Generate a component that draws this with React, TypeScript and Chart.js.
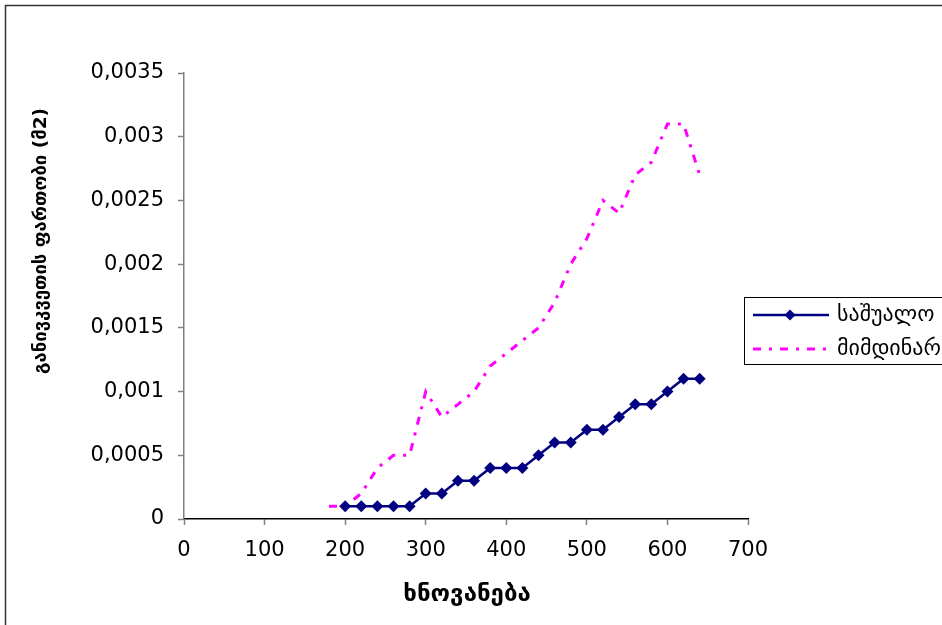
import React, { useEffect, useRef } from "react";
import { Chart, registerables } from "chart.js";

Chart.register(...registerables);

// ---- data ----
const seriesNames = ["საშუალო", "მიმდინარე"];
const averageAges = [200, 220, 240, 260, 280, 300, 320, 340, 360, 380, 400, 420, 440, 460, 480, 500, 520, 540, 560, 580, 600, 620, 640];
const averageArea = [0.0001, 0.0001, 0.0001, 0.0001, 0.0001, 0.0002, 0.0002, 0.0003, 0.0003, 0.0004, 0.0004, 0.0004, 0.0005, 0.0006, 0.0006, 0.0007, 0.0007, 0.0008, 0.0009, 0.0009, 0.001, 0.0011, 0.0011];
const currentAges = [180, 200, 220, 240, 260, 280, 300, 320, 340, 360, 380, 400, 420, 440, 460, 480, 500, 520, 540, 560, 580, 600, 620, 640];
const currentArea = [0.0001, 0.0001, 0.0002, 0.0004, 0.0005, 0.0005, 0.001, 0.0008, 0.0009, 0.001, 0.0012, 0.0013, 0.0014, 0.0015, 0.0017, 0.002, 0.0022, 0.0025, 0.0024, 0.0027, 0.0028, 0.0031, 0.0031, 0.0027];
const xTickValues = [0, 100, 200, 300, 400, 500, 600, 700];
const yTickValues = [0, 0.0005, 0.001, 0.0015, 0.002, 0.0025, 0.003, 0.0035];
const xTitle = "ხნოვანება";
const yTitle = "განივკვეთის ფართობი (მ2)";

const GEO_FONT = "'DejaVu Sans', sans-serif";
const NUM_FONT = "'DejaVu Sans', sans-serif";

const fmt = (v: number) => (v === 0 ? "0" : String(Number(v.toFixed(4))).replace(".", ","));

const framePlugin = {
  id: "frame",
  beforeDraw(chart: any) {
    const ctx = chart.ctx;
    ctx.save();
    ctx.fillStyle = "#ffffff";
    ctx.fillRect(0, 0, chart.width, chart.height);
    ctx.strokeStyle = "#333333";
    ctx.lineWidth = 1.5;
    ctx.beginPath();
    ctx.moveTo(5.5, chart.height + 10);
    ctx.lineTo(5.5, 5.5);
    ctx.lineTo(chart.width + 10, 5.5);
    ctx.stroke();
    ctx.restore();
  },
};

const titlesPlugin = {
  id: "titles",
  afterDraw(chart: any) {
    const ctx = chart.ctx;
    const area = chart.chartArea;
    ctx.save();
    ctx.fillStyle = "#000000";
    ctx.textAlign = "center";
    ctx.textBaseline = "middle";
    ctx.font = `bold 24px ${GEO_FONT}`;
    ctx.fillText(xTitle, (area.left + area.right) / 2 + 1, 595);
    ctx.translate(41, 241);
    ctx.rotate(-Math.PI / 2);
    ctx.font = `bold 18.5px ${GEO_FONT}`;
    ctx.fillText(yTitle, 0, 0);
    ctx.restore();
  },
};

const legendPlugin = {
  id: "customLegend",
  afterDraw(chart: any) {
    const ctx = chart.ctx;
    const boxLeft = 744.5;
    const boxTop = 297.5;
    const rowY = [315, 349];
    ctx.save();
    ctx.strokeStyle = "#000000";
    ctx.lineWidth = 1;
    ctx.strokeRect(boxLeft, boxTop, 300, 67);
    chart.data.datasets.forEach((ds: any, i: number) => {
      const y = rowY[i];
      ctx.save();
      ctx.strokeStyle = ds.borderColor;
      ctx.lineWidth = ds.borderWidth;
      ctx.setLineDash(ds.borderDash || []);
      ctx.beginPath();
      ctx.moveTo(753, y);
      ctx.lineTo(829, y);
      ctx.stroke();
      ctx.restore();
      if (ds.pointRadius > 0) {
        const r = ds.pointRadius - 0.5;
        ctx.fillStyle = ds.pointBackgroundColor;
        ctx.beginPath();
        ctx.moveTo(790, y - r);
        ctx.lineTo(790 + r, y);
        ctx.lineTo(790, y + r);
        ctx.lineTo(790 - r, y);
        ctx.closePath();
        ctx.fill();
      }
      ctx.fillStyle = "#000000";
      ctx.font = `22px ${GEO_FONT}`;
      ctx.textAlign = "left";
      ctx.textBaseline = "middle";
      ctx.fillText(ds.label, 837, y);
    });
    ctx.restore();
  },
};

export default function App() {
  const canvasRef = useRef<HTMLCanvasElement | null>(null);

  useEffect(() => {
    if (!canvasRef.current) return;
    const chart = new Chart(canvasRef.current, {
      type: "line",
      data: {
        datasets: [
          {
            label: seriesNames[0],
            data: averageAges.map((x, i) => ({ x, y: averageArea[i] })),
            borderColor: "#000080",
            backgroundColor: "#000080",
            borderWidth: 2.5,
            pointStyle: "rectRot",
            pointRadius: 6,
            pointBackgroundColor: "#000080",
            pointBorderColor: "#000080",
            pointBorderWidth: 0,
            tension: 0,
          },
          {
            label: seriesNames[1],
            data: currentAges.map((x, i) => ({ x, y: currentArea[i] })),
            borderColor: "#FF00FF",
            backgroundColor: "#FF00FF",
            borderWidth: 3,
            borderDash: [8, 8, 3, 8],
            pointRadius: 0,
            tension: 0,
          },
        ],
      },
      options: {
        animation: false,
        responsive: true,
        maintainAspectRatio: false,
        layout: { padding: { left: 0, right: 194, top: 73, bottom: 0 } },
        plugins: {
          legend: { display: false },
          tooltip: { enabled: false },
          title: { display: false },
        },
        scales: {
          x: {
            type: "linear",
            min: 0,
            max: 700,
            afterBuildTicks: (scale: any) => {
              scale.ticks = xTickValues.map((v) => ({ value: v }));
            },
            afterFit: (scale: any) => {
              scale.height = 106;
            },
            grid: {
              drawOnChartArea: false,
              drawTicks: true,
              tickLength: 6,
              tickColor: "#808080",
              tickWidth: 1.5,
            },
            border: { color: "#000000", width: 1.5 },
            ticks: {
              color: "#000000",
              font: { family: NUM_FONT, size: 21 },
              padding: 13,
              maxRotation: 0,
              autoSkip: false,
              callback: (v: any) => String(v),
            },
          },
          y: {
            type: "linear",
            min: 0,
            max: 0.0035,
            afterBuildTicks: (scale: any) => {
              scale.ticks = yTickValues.map((v) => ({ value: v }));
            },
            afterFit: (scale: any) => {
              scale.width = 184;
            },
            grid: {
              drawOnChartArea: false,
              drawTicks: true,
              tickLength: 6,
              tickColor: "#808080",
              tickWidth: 1.5,
            },
            border: { color: "#808080", width: 1.5 },
            ticks: {
              color: "#000000",
              font: { family: NUM_FONT, size: 21 },
              padding: 14,
              autoSkip: false,
              callback: (v: any) => fmt(Number(v)),
            },
          },
        },
      },
      plugins: [framePlugin, titlesPlugin, legendPlugin],
    });
    return () => chart.destroy();
  }, []);

  return (
    <div style={{ position: "absolute", left: 0, top: 0, width: 942, height: 625 }}>
      <canvas ref={canvasRef} />
    </div>
  );
}
